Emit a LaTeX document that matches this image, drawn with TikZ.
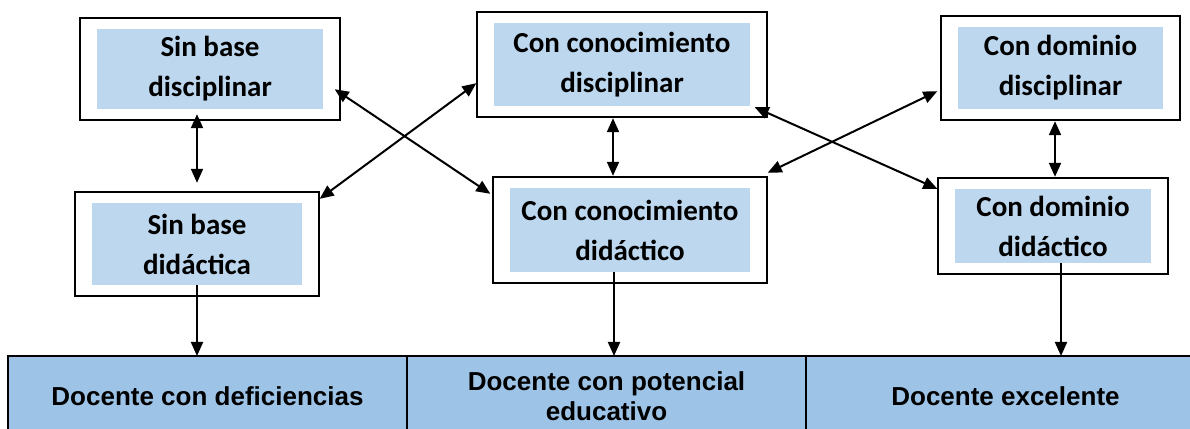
\documentclass[tikz,border=0pt]{standalone}
\usepackage{fontspec}
\setmainfont{Carlito}
\newfontfamily\arialfont{Liberation Sans}
\usepackage{tikz}
\usetikzlibrary{positioning,fit,arrows.meta}
\definecolor{innerblue}{HTML}{BDD7EE}
\definecolor{barblue}{HTML}{9DC3E6}

\begin{document}
\begin{tikzpicture}[x=1pt,y=1pt,
        inner/.style={fill=innerblue, align=center, inner sep=0pt, font=\fontsize{29}{40}\selectfont\bfseries},
        outer/.style={draw, line width=2pt, inner xsep=16.5pt, inner ysep=11pt},
        cell/.style={draw, line width=2pt, fill=barblue, outer sep=0pt, minimum width=399pt, minimum height=80pt, align=center, font=\arialfont\bfseries\fontsize{26}{30}\selectfont},
        link/.style={line width=2pt, {Triangle[length=14pt,width=12pt]}-{Triangle[length=14pt,width=12pt]}},
        down/.style={line width=2pt, -{Triangle[length=14pt,width=12pt]}}]
            \useasboundingbox (0,0) rectangle (1190,428);
            \clip (0,0) rectangle (1190,428);
            \node[inner, minimum width=226pt, minimum height=80pt] (sbdisc) at (210,359) {Sin base\\disciplinar};
            \node[outer, fit=(sbdisc)] (sbdiscbox) {};
            \node[inner, minimum width=210pt, minimum height=82pt] (sbdid) at (197,184) {Sin base\\didáctica};
            \node[outer, fit=(sbdid)] (sbdidbox) {};
            \node[inner, minimum width=256pt, minimum height=83pt] (condisc) at (622,363.5) {Con conocimiento\\disciplinar};
            \node[outer, fit=(condisc)] (condiscbox) {};
            \node[inner, minimum width=240pt, minimum height=84pt] (condid) at (630,198) {Con conocimiento\\didáctico};
            \node[outer, fit=(condid)] (condidbox) {};
            \node[inner, minimum width=205pt, minimum height=82pt] (domdisc) at (1060.5,360) {Con dominio\\disciplinar};
            \node[outer, fit=(domdisc)] (domdiscbox) {};
            \node[inner, minimum width=196pt, minimum height=74pt] (domdid) at (1053,202) {Con dominio\\didáctico};
            \node[outer, fit=(domdid)] (domdidbox) {};
            \node[cell] (deficiente) at (207.5,32) {Docente con deficiencias};
            \node[cell, right=0pt of deficiente] (potencial) {Docente con potencial\\educativo};
            \node[cell, right=0pt of potencial] (excelente) {Docente excelente};
            \draw[link] ([yshift=7pt]sbdidbox.north |- sbdiscbox.south) -- ([yshift=8pt]sbdidbox.north);
            \draw[link] ([xshift=-17pt]condidbox.north |- condiscbox.south) -- ([xshift=-17pt]condidbox.north);
            \draw[link] ([xshift=2pt]domdidbox.north |- domdiscbox.south) -- ([xshift=2pt]domdidbox.north);
            \draw[link] ([shift={(-6pt,32pt)}]sbdiscbox.south east) -- ([shift={(-2pt,-18pt)}]condidbox.north west);
            \draw[link] ([yshift=-8pt]sbdidbox.north east) -- ([yshift=35pt]condiscbox.south west);
            \draw[link] ([shift={(-13pt,11pt)}]condiscbox.south east) -- ([yshift=-12pt]domdidbox.north west);
            \draw[link] ([yshift=3pt]condidbox.north east) -- ([shift={(-3pt,30pt)}]domdiscbox.south west);
            \draw[down] (sbdid.south) -- (sbdid.south |- deficiente.north);
            \draw[down] ([xshift=-16pt]condid.south) -- ([xshift=-16pt]condid.south |- potencial.north);
            \draw[down] ([xshift=8pt]domdid.south) -- ([xshift=8pt]domdid.south |- excelente.north);
        \end{tikzpicture}
\end{document}
